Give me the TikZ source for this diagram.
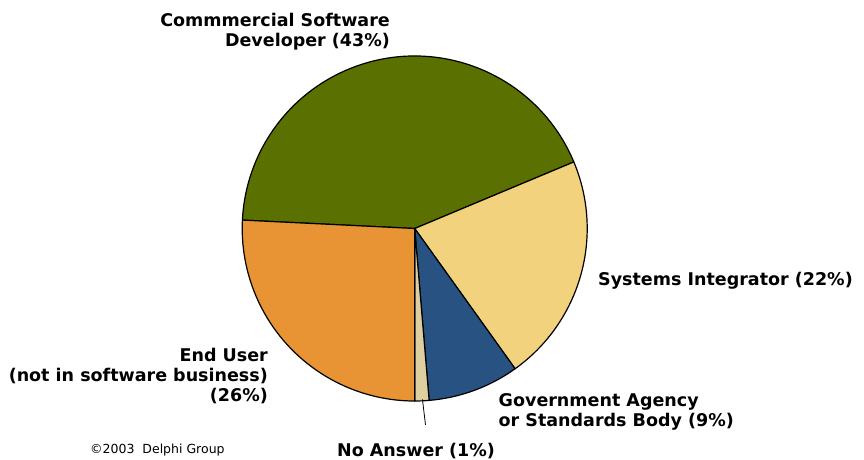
\documentclass[tikz,border=0pt]{standalone}
\usepackage{fontspec}
\setmainfont{DejaVu Sans}
\usetikzlibrary{calc}
\definecolor{olive}{RGB}{90,112,0}
\definecolor{sand}{RGB}{243,210,125}
\definecolor{navy}{RGB}{40,82,130}
\definecolor{tangerine}{RGB}{232,148,52}
\definecolor{beige}{RGB}{221,207,160}
\tikzstyle{slice} = [draw=black, line width=1.2pt, line join=round]
\tikzstyle{lbl} = [font=\bfseries\fontsize{17.5}{20}\selectfont, inner sep=0pt]
\tikzstyle{note} = [font=\fontsize{12.5}{15}\selectfont, inner sep=0pt]

\begin{document}
\begin{tikzpicture}[x=1pt,y=1pt]
        \useasboundingbox (0,0) rectangle (864,459);
        \coordinate (c) at (414.7,230.5);
        % slices, clockwise from the top right
        \filldraw[slice, fill=olive] (c) -- ++(22.7:172.5) arc (22.7:177.2:172.5) -- cycle;
        \filldraw[slice, fill=sand] (c) -- ++(-54.4:172.5) arc (-54.4:22.7:172.5) -- cycle;
        \filldraw[slice, fill=navy] (c) -- ++(-85.2:172.5) arc (-85.2:-54.4:172.5) -- cycle;
        \filldraw[slice, fill=beige] (c) -- ++(-90:172.5) arc (-90:-85.2:172.5) -- cycle;
        \filldraw[slice, fill=tangerine] (c) -- ++(177.2:172.5) arc (177.2:270:172.5) -- cycle;
        % labels (base = last line)
        \node[lbl, align=right, anchor=base east] (commercial) at (390,412.5) {Commmercial Software\\Developer (43\%)};
        \node[lbl, anchor=base west] (integrator) at (598,174) {Systems Integrator (22\%)};
        \node[lbl, align=left, anchor=base west] (government) at (498.5,33) {Government Agency\\or Standards Body (9\%)};
        \node[lbl, anchor=base] (noanswer) at (416,2.5) {No Answer (1\%)};
        \node[lbl, align=right, anchor=base east] (enduser) at (268,58) {End User\\(not in software business)\\(26\%)};
        \node[note, anchor=base west] (copyright) at (90,6) {\textcopyright2003\ \ Delphi Group};
        % leader line for the smallest slice
        \coordinate (na) at ($(c)+(-87.4:171)$);
        \coordinate (naend) at (425.5,34);
        \draw[line width=0.8pt] (na) -- (naend);
\end{tikzpicture}
\end{document}
